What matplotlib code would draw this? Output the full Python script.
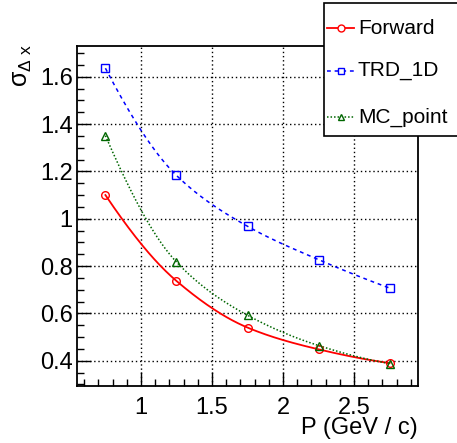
import numpy as np
import matplotlib
matplotlib.use("Agg")
import matplotlib.pyplot as plt
from matplotlib.patches import Rectangle
from matplotlib.lines import Line2D
from matplotlib.ticker import MultipleLocator, FuncFormatter

plt.rcParams['font.family'] = ['Liberation Sans', 'DejaVu Sans']
plt.rcParams['mathtext.fontset'] = 'custom'
plt.rcParams['mathtext.rm'] = 'Liberation Sans'
plt.rcParams['mathtext.it'] = 'Liberation Sans'

# ---- data ----
momentum = [0.75, 1.25, 1.75, 2.25, 2.75]
forward = [1.10, 0.737, 0.540, 0.448, 0.390]
trd_1d = [1.636, 1.183, 0.968, 0.827, 0.707]
mc_point = [1.351, 0.817, 0.592, 0.464, 0.388]
series_names = ["Forward", "TRD_1D", "MC_point"]
x_label = "P (GeV / c)"
y_label = r"$\mathregular{\sigma_{\Delta\ x}}$"


def pchip(x, y, n=200):
    x = np.asarray(x, float)
    y = np.asarray(y, float)
    h = np.diff(x)
    d = np.diff(y) / h
    k = len(x)
    m = np.zeros(k)
    for i in range(1, k - 1):
        if d[i - 1] * d[i] > 0:
            w1 = 2 * h[i] + h[i - 1]
            w2 = h[i] + 2 * h[i - 1]
            m[i] = (w1 + w2) / (w1 / d[i - 1] + w2 / d[i])
    def end(h0, h1, d0, d1):
        v = ((2 * h0 + h1) * d0 - h0 * d1) / (h0 + h1)
        if np.sign(v) != np.sign(d0):
            v = 0
        elif np.sign(d0) != np.sign(d1) and abs(v) > abs(3 * d0):
            v = 3 * d0
        return v
    m[0] = end(h[0], h[1], d[0], d[1])
    m[-1] = end(h[-1], h[-2], d[-1], d[-2])
    xs = np.linspace(x[0], x[-1], n)
    ys = np.empty_like(xs)
    for j, xv in enumerate(xs):
        i = min(np.searchsorted(x, xv, side='right') - 1, k - 2)
        t = (xv - x[i]) / h[i]
        h00 = 2 * t**3 - 3 * t**2 + 1
        h10 = t**3 - 2 * t**2 + t
        h01 = -2 * t**3 + 3 * t**2
        h11 = t**3 - t**2
        ys[j] = h00 * y[i] + h10 * h[i] * m[i] + h01 * y[i + 1] + h11 * h[i] * m[i + 1]
    return xs, ys


W, H = 457, 443
fig = plt.figure(figsize=(W / 100, H / 100), dpi=100)
ax = fig.add_axes([77 / W, 1 - 386 / H, (418 - 77) / W, (386 - 46) / H])

styles = [
    dict(color='#ff0000', ls='-', lw=1.3, marker='o', dashes=None),
    dict(color='#0000ff', ls='--', lw=1.1, marker='s', dashes=(2.5, 2.5)),
    dict(color='#006600', ls=':', lw=1.1, marker='^', dashes=(1, 1.3)),
]
handles = []
for vals, name, st in zip([forward, trd_1d, mc_point], series_names, styles):
    xs, ys = pchip(momentum, vals)
    line, = ax.plot(xs, ys, color=st['color'], lw=st['lw'], ls=st['ls'], zorder=3)
    if st['dashes']:
        line.set_dashes(st['dashes'])
    ax.plot(momentum, vals, ls='none', marker=st['marker'], ms=5.5,
            mfc='none', mec=st['color'], mew=1.0, zorder=4)
    handles.append(st)

ax.set_xlim(0.55, 2.95)
ax.set_ylim(0.293, 1.73)
ax.xaxis.set_major_locator(MultipleLocator(0.5))
ax.xaxis.set_minor_locator(MultipleLocator(0.1))
ax.yaxis.set_major_locator(MultipleLocator(0.2))
ax.yaxis.set_minor_locator(MultipleLocator(0.05))
ax.tick_params(which='both', direction='in', top=False, right=False,
               labelsize=17, colors='black')
ax.tick_params(which='major', length=10, width=1)
ax.tick_params(which='minor', length=5, width=1)
ax.tick_params(axis='x', pad=8)
ax.tick_params(axis='y', pad=3)


def fmt(v, pos):
    s = '%.1f' % v
    if s.endswith('.0'):
        s = s[:-2]
    return s


ax.xaxis.set_major_formatter(FuncFormatter(fmt))
ax.yaxis.set_major_formatter(FuncFormatter(fmt))

ax.grid(True, which='major', color='black', lw=1.0, ls=(0, (1, 2)), zorder=1)
for s in ax.spines.values():
    s.set_linewidth(1.3)

fig.text(418 / W, 1 - 428 / H, x_label, ha='right', va='center', fontsize=17)
fig.text(22 / W, 1 - 44 / H, y_label, ha='center', va='top', rotation=90, fontsize=18)

# legend box
fig.patches.append(Rectangle((324 / W, 1 - 136 / H), (470 - 324) / W, (136 - 3) / H,
                             transform=fig.transFigure, fc='white', ec='black', lw=1.2))
ys_leg = [28, 71, 117]
for st, name, yl in zip(handles, series_names, ys_leg):
    yf = 1 - yl / H
    seg = Line2D([327 / W, 354 / W], [yf, yf], transform=fig.transFigure,
                 color=st['color'], lw=st['lw'], ls=st['ls'])
    if st['dashes']:
        seg.set_dashes(st['dashes'])
    fig.lines.append(seg)
    mk = Line2D([340.5 / W], [yf], transform=fig.transFigure, ls='none',
                marker=st['marker'], ms=5, mfc='white', mec=st['color'], mew=1.0)
    fig.lines.append(mk)
    fig.text(358 / W, yf, name, ha='left', va='center', fontsize=15)

fig.savefig('out.png', dpi=100)
